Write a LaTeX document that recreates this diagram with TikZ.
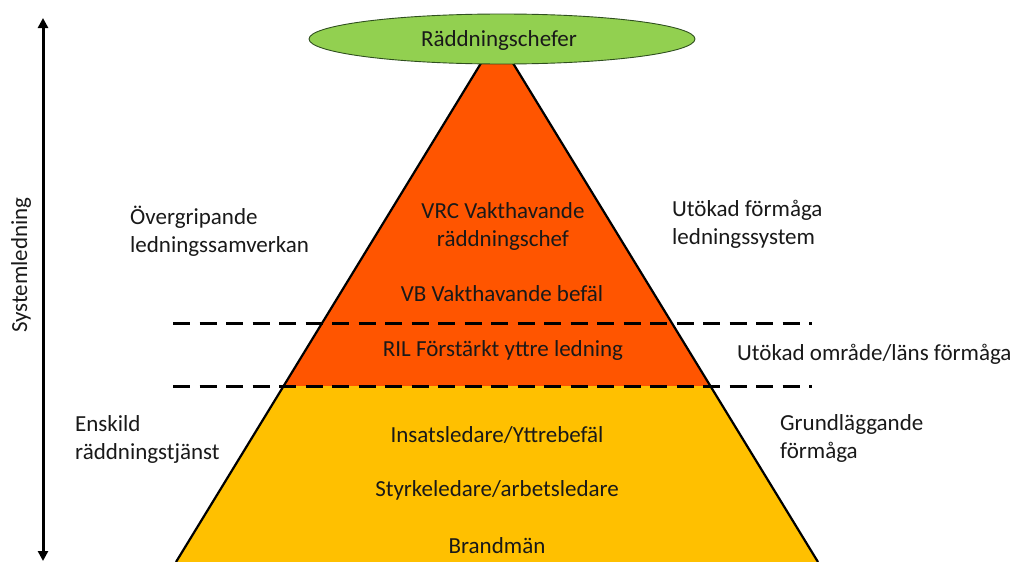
\documentclass[tikz,border=0pt]{standalone}
\usepackage{fontspec}
\setmainfont{Carlito}
\usetikzlibrary{arrows.meta,shapes.geometric}
\definecolor{orangeL}{HTML}{FF5500}
\definecolor{yellowL}{HTML}{FFC000}
\definecolor{greenL}{HTML}{92D050}
\definecolor{greenD}{HTML}{2F4F1F}
\tikzset{
  lbl/.style={font=\fontsize{23}{28}\selectfont, inner sep=0pt, text=black!90},
  sidelbl/.style={lbl, anchor=west, align=left},
  midlbl/.style={lbl, anchor=center, align=center},
  sep/.style={line width=3pt, dash pattern=on 17pt off 9.5pt},
  edge/.style={line width=2.2pt, black},
}
\begin{document}
\begin{tikzpicture}[x=1pt,y=-1pt]
\useasboundingbox (0,0) rectangle (1015,562);
% pyramid
\coordinate (apex) at (497,37);
\coordinate (ml) at (284,386);
\coordinate (mr) at (710,386);
\coordinate (bl) at (176,562);
\coordinate (br) at (818,562);
\fill[orangeL] (apex) -- (ml) -- (mr) -- cycle;
\fill[yellowL] (ml) -- (bl) -- (br) -- (mr) -- cycle;
\draw[edge] (bl) -- (apex) -- (br);
% dashed separators
\coordinate (d1l) at (173,323); \coordinate (d1r) at (812,323);
\coordinate (d2l) at (173,386); \coordinate (d2r) at (812,386);
\draw[sep] (d1l) -- (d1r);
\draw[sep] (d2l) -- (d2r);
% top ellipse
\node[ellipse, draw=greenD, line width=0.9pt, fill=greenL, minimum width=386pt, minimum height=50pt, inner sep=0pt] (top) at (502,39) {};
\node[midlbl] (topt) at (499,40) {Räddningschefer};
% arrow
\coordinate (at) at (43,18);
\coordinate (ab) at (43,561);
\draw[line width=3pt, {Triangle[length=10pt,width=10pt]}-{Triangle[length=10pt,width=10pt]}] (at) -- (ab);
\node[lbl, rotate=90] (sys) at (21,265) {Systemledning};
% center labels
\node[midlbl] (vrc) at (503,226) {VRC Vakthavande\\räddningschef};
\node[midlbl] (vb) at (502,294) {VB Vakthavande befäl};
\node[midlbl] (ril) at (503,350) {RIL Förstärkt yttre ledning};
\node[midlbl] (ins) at (497,435) {Insatsledare/Yttrebefäl};
\node[midlbl] (sty) at (497,490) {Styrkeledare/arbetsledare};
\node[midlbl] (bra) at (497,546) {Brandmän};
% side labels
\node[sidelbl] (ov) at (130,231) {Övergripande\\ledningssamverkan};
\node[sidelbl] (ut) at (672,224) {Utökad förmåga\\ledningssystem};
\node[sidelbl] (uo) at (737,354) {Utökad område/läns förmåga};
\node[sidelbl] (en) at (75,439) {Enskild\\räddningstjänst};
\node[sidelbl] (gr) at (780,438) {Grundläggande\\förmåga};
\end{tikzpicture}
\end{document}
